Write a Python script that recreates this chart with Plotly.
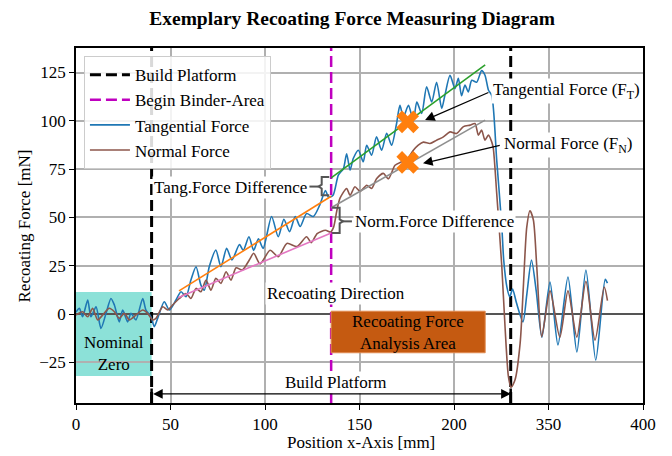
import plotly.graph_objects as go

# ---------------- data ----------------
tang_x = [0, 1.8, 3.5, 6.2, 7.9, 10.6, 13.2, 15.9, 18.5, 20.3, 22.9, 24.7, 27.3, 29.1, 31.7, 35.3, 37, 39.7,
          41.4, 43.2, 46.7, 49.4, 52.9, 55.6, 58.2, 60.8, 63.5, 66.1, 67.9, 70.5, 74, 76.7, 79.7, 82.5, 86.5,
          88.5, 91.5, 94, 96.5, 99, 103.5, 107, 110, 113, 116, 118.6, 122, 125.6, 129, 132, 133.6, 136,
          138.8, 141.5, 143.2, 145, 146.7, 149.4, 152, 153.8, 156.4, 159, 161.7, 164.4, 167, 169.5, 171.4,
          173.2, 175.9, 178.5, 180.3, 182.9, 185.5, 188.2, 190.8, 193.5, 195.2, 197.9, 200.5, 202.3, 204,
          205.8, 207.6, 209.4, 212, 214.6, 216.4, 218.2, 220, 222.6, 225.3, 226.3, 228, 229.5, 231, 233,
          236.5, 238.5, 241, 243.5, 246.5, 250.8, 255, 260.3, 265, 269.8, 275, 280, 281.2]
tang_y = [1, 3, -1.4, 7.3, -1.4, 3.8, -7.4, 0.4, 8.1, 4.7, -4, 2.1, -4, 0.4, -3, 8.1, 2.1, -1.4,
          -6.5, -2.2, 6.4, 2.1, 7.3, 11.6, 9, 17.6, 24.5, 15, 12.4, 24.5, 33.1, 24.5, 34, 28, 36,
          33, 40, 33, 39, 34, 50.5, 40, 49, 42.7, 50.5, 45.3, 52, 50.5, 56.5, 64, 60.5, 61.5,
          71.9, 75.3, 83, 74.5, 80.5, 84.8, 78.8, 87.4, 82.2, 91.7, 84.8, 93.5, 87.4, 98, 108,
          102, 108, 100, 109.8, 103.8, 117.6, 109.8, 120, 106.4, 113.3, 123.6, 116.7, 122, 113,
          118.5, 115, 121, 120, 126, 123.6, 116, 113, 79.7, 45.2, 28, 14, 9, 13, 6,
          -4, 10, 28, 12, -12, 16.6, -16, 19.2, -19.6, 22.8, -23.8, 18, 16]

norm_x = [0, 3.5, 6.2, 8.8, 11.5, 14.1, 17.6, 20.3, 22.9, 25.6, 28.2, 31.7, 35.3, 37.9, 40.6, 42.3, 45.9,
          48.5, 51.1, 54.7, 58.2, 60.8, 63.5, 66.1, 68.8, 71.4, 74, 76.7, 79.4, 82, 84.7, 88, 91.7, 94,
          97.4, 102.7, 107, 111.6, 117, 122, 124.5, 127.6, 132, 134.7, 136.3, 138, 139.7, 143.2, 145,
          147.6, 150.3, 153.8, 156.4, 159, 162.6, 165.3, 168.8, 172.3, 175, 178.5, 181.1, 183.8, 187.3,
          190.8, 194.4, 197.9, 201.4, 205, 208.5, 211.1, 212.9, 214.6, 216.4, 218.2, 220, 220.8, 222.6,
          225.3, 227, 228.8, 230.2, 232.3, 235, 236.7, 238.5, 240.2, 242, 243.8, 246.4, 250.8, 256,
          260.3, 265, 269.8, 274.6, 279.5, 281.2]
norm_y = [-0.5, 1.2, -1.4, 3, -3, -0.5, 3, 1.2, -2.2, 0.4, -3, -0.5, 2.1, 0.4, -3, -2.2, 3.8,
          2.1, 4.7, 8.1, 10.7, 8.1, 13.3, 11.6, 17.6, 12.4, 18.5, 15.9, 21.9, 17.6, 24, 22.8, 28, 31.5,
          26, 33, 29.7, 36.6, 35, 40, 37, 41.7, 43.4, 42.5, 45, 53.5, 60, 65, 61.5,
          65.9, 63.5, 66.7, 65, 70, 72.8, 70, 77, 78.8, 80, 84.8, 87.4, 89, 88.3,
          90, 91.7, 94.3, 93.5, 97, 97.8, 98.6, 92.6, 95.2, 90, 92.6, 89, 85.7, 62.5,
          24.5, -6.5, -32.4, -38, -34, -15, 14.2, 45, 53.5, 48.7, 24.5, -11.7, 12, -12,
          12, -11.9, 17, -13.5, 14, 7]

build_platform_x = [40, 230]
binder_begin_x = 135
x_range = [0, 300]
y_range = [-46, 137.7]
x_tickvals = [0, 50, 100, 150, 200, 250, 300]
x_ticktext = ["0", "50", "100", "150", "200", "350", "400"]
y_tickvals = [-25, 0, 25, 50, 75, 100, 125]

# fitted lines (x0, y0, x1, y1)
tang_fit_before = [54.5, 12, 135, 61]
tang_fit_after = [135, 70.5, 216.5, 129]
norm_fit_before = [54, 8.5, 135, 42]
norm_fit_after = [135, 55, 216.5, 100.4]
marker_x = [175.5, 175.5]
marker_y = [99.5, 78.5]

FONT = "Liberation Serif, Times New Roman, serif"
FS = 17

fig = go.Figure()

# vertical lines as legend traces
bx, by = [], []
for xv in build_platform_x:
    bx += [xv, xv, None]
    by += [y_range[0], y_range[1], None]
fig.add_trace(go.Scatter(x=bx, y=by, mode="lines", name="Build Platform",
                         line=dict(color="black", width=3, dash="11px,5px")))
fig.add_trace(go.Scatter(x=[binder_begin_x, binder_begin_x], y=y_range, mode="lines",
                         name="Begin Binder-Area",
                         line=dict(color="#bf00bf", width=2.5, dash="11px,5px")))

fig.add_trace(go.Scatter(x=tang_x, y=tang_y, mode="lines", name="Tangential Force",
                         line=dict(color="#1f77b4", width=1.6, shape="spline", smoothing=0.7)))
fig.add_trace(go.Scatter(x=norm_x, y=norm_y, mode="lines", name="Normal Force",
                         line=dict(color="#8c564b", width=1.6, shape="spline", smoothing=0.7)))

for seg, col in [(tang_fit_before, "#ff7f0e"), (tang_fit_after, "#2ca02c"),
                 (norm_fit_before, "#e377c2"), (norm_fit_after, "#8f8f8f")]:
    fig.add_trace(go.Scatter(x=[seg[0], seg[2]], y=[seg[1], seg[3]], mode="lines",
                             line=dict(color=col, width=1.6), showlegend=False, hoverinfo="skip"))

fig.add_trace(go.Scatter(x=marker_x, y=marker_y, mode="markers", showlegend=False,
                         marker=dict(symbol="x", size=20, color="#ff7f0e", line=dict(width=0))))

shapes = []
# nominal zero box
shapes.append(dict(type="rect", xref="x", yref="y", x0=0, x1=build_platform_x[0], y0=-32, y1=11.5,
                   fillcolor="rgba(64,205,190,0.6)", line=dict(width=0), layer="below"))
# analysis area box
shapes.append(dict(type="rect", xref="x", yref="y", x0=binder_begin_x, x1=216.5, y0=-20, y1=1.5,
                   fillcolor="#c55a11", line=dict(color="#e08a50", width=1), layer="above"))
# end bars of the build platform arrow
for xv in build_platform_x:
    shapes.append(dict(type="line", xref="x", yref="y", x0=xv, x1=xv, y0=y_range[0], y1=-38.5,
                       line=dict(color="black", width=2.5)))
# brackets
shapes.append(dict(type="path", xref="x", yref="y",
                   path="M 134,71 L 130,71 L 130,67 L 128.3,66 L 130,65 L 130,61.5 L 134,61.5",
                   line=dict(color="#555555", width=2)))
shapes.append(dict(type="line", xref="x", yref="y", x0=123.5, x1=128.3, y0=66, y1=66,
                   line=dict(color="#555555", width=2)))
shapes.append(dict(type="path", xref="x", yref="y",
                   path="M 135.5,55 L 139.5,55 L 139.5,49 L 141.3,48 L 139.5,47 L 139.5,42 L 135.5,42",
                   line=dict(color="#555555", width=2)))
shapes.append(dict(type="line", xref="x", yref="y", x0=141.3, x1=146, y0=48, y1=48,
                   line=dict(color="#555555", width=2)))

tf = dict(family=FONT, size=FS, color="black")
ann = []
# axis titles
ann.append(dict(x=-0.09, y=0.5, xref="paper", yref="paper", text="Recoating Force [mN]", textangle=-90,
                showarrow=False, font=tf, xanchor="center", yanchor="middle"))
ann.append(dict(x=0.503, y=-0.11, xref="paper", yref="paper", text="Position x-Axis [mm]",
                showarrow=False, font=tf, xanchor="center", yanchor="middle"))
ann.append(dict(x=20, y=-20.5, xref="x", yref="y", text="Nominal<br>Zero", showarrow=False, font=tf))
ann.append(dict(x=175.8, y=-9.3, xref="x", yref="y", text="Recoating Force<br>Analysis Area",
                showarrow=False, font=tf))
ann.append(dict(x=137.6, y=10.9, xref="x", yref="y", text="Recoating Direction", showarrow=False,
                font=tf, bgcolor="white"))
ann.append(dict(x=137.6, y=-35.5, xref="x", yref="y", text="Build Platform", showarrow=False,
                font=tf, bgcolor="white"))
ann.append(dict(x=build_platform_x[1], y=-41.3, ax=build_platform_x[0], ay=-41.3, xref="x", yref="y",
                axref="x", ayref="y", text="", showarrow=True, arrowside="end+start",
                arrowhead=2, arrowsize=1.6, arrowwidth=1.2, arrowcolor="black"))
ann.append(dict(x=123.3, y=65.5, xref="x", yref="y", text="Tang.Force Difference", showarrow=False,
                xanchor="right", font=tf, bgcolor="white"))
ann.append(dict(x=146.3, y=48, xref="x", yref="y", text="Norm.Force Difference", showarrow=False,
                xanchor="left", font=tf, bgcolor="white"))
ann.append(dict(x=219.5, y=115.5, xref="x", yref="y", text="Tangential Force (F<sub>T</sub>)",
                showarrow=False, xanchor="left", font=tf, bgcolor="white"))
ann.append(dict(x=225.5, y=87.5, xref="x", yref="y", text="Normal Force (F<sub>N</sub>)",
                showarrow=False, xanchor="left", font=tf, bgcolor="white"))
ann.append(dict(x=184.7, y=100.4, ax=219, ay=115, xref="x", yref="y", axref="x", ayref="y",
                text="", showarrow=True, arrowhead=2, arrowsize=1.6, arrowwidth=1.2, arrowcolor="black"))
ann.append(dict(x=183.6, y=78, ax=225, ay=87.5, xref="x", yref="y", axref="x", ayref="y",
                text="", showarrow=True, arrowhead=2, arrowsize=1.6, arrowwidth=1.2, arrowcolor="black"))

fig.update_layout(
    width=672, height=456,
    margin=dict(l=76, r=29, t=48, b=53, autoexpand=False),
    paper_bgcolor="white", plot_bgcolor="white",
    font=dict(family=FONT, size=FS, color="black"),
    title=dict(text="<b>Exemplary Recoating Force Measuring Diagram</b>", x=0.524, xref="container",
               xanchor="center", y=0.96, yref="container", yanchor="middle",
               font=dict(family=FONT, size=19.5, color="black")),
    showlegend=True,
    legend=dict(x=0.014, y=0.977, xanchor="left", yanchor="top", bgcolor="rgba(255,255,255,0.85)",
                bordercolor="#cccccc", borderwidth=1, font=dict(family=FONT, size=FS),
                tracegroupgap=0, itemwidth=40),
    shapes=shapes, annotations=ann,
)
fig.update_xaxes(range=x_range, tickvals=x_tickvals, ticktext=x_ticktext, showgrid=True,
                 gridcolor="#b0b0b0", gridwidth=1.5, zeroline=False, showline=True, linecolor="black",
                 linewidth=1.5, mirror=True, ticks="outside", ticklen=5, tickwidth=1.2, tickcolor="black",
                 tickfont=dict(family=FONT, size=FS), automargin=False)
fig.update_yaxes(range=y_range, tickvals=y_tickvals, showgrid=True, gridcolor="#b0b0b0", gridwidth=1.5,
                 zeroline=True, zerolinecolor="#555555", zerolinewidth=1.5, showline=True,
                 linecolor="black", linewidth=1.5, mirror=True, ticks="outside", ticklen=5,
                 tickwidth=1.2, tickcolor="black", tickfont=dict(family=FONT, size=FS), automargin=False)

fig.write_html("out.html")
